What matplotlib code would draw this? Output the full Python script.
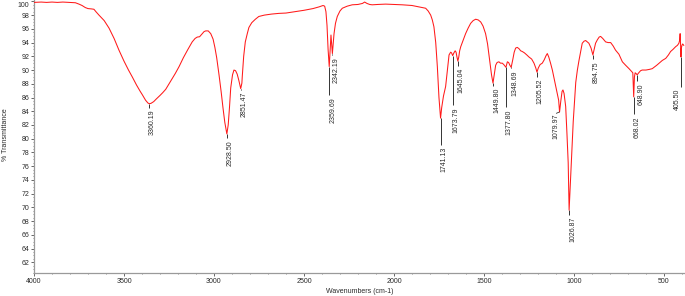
import matplotlib
matplotlib.use("Agg")
import matplotlib.pyplot as plt
import matplotlib.transforms as mtransforms
from matplotlib.ticker import MultipleLocator
import numpy as np

# ---------------- data ----------------
wavenumbers = [
    4000, 3960, 3930, 3900, 3870, 3840, 3800, 3770, 3750, 3733, 3715, 3700, 3680, 3667, 3656, 3639,
    3610, 3583, 3555, 3528, 3500, 3475, 3454, 3430, 3410, 3398, 3380, 3367, 3360.19, 3350, 3335,
    3320, 3300, 3285, 3268, 3240, 3215, 3194, 3170, 3145, 3121, 3105, 3093, 3080, 3068, 3055, 3046,
    3032, 3018, 3005, 2995, 2985, 2972, 2960, 2950, 2940, 2928.5, 2921, 2914, 2907, 2897, 2889,
    2880, 2871, 2862, 2851.47, 2845, 2843, 2835, 2826, 2815, 2806, 2790, 2770, 2751, 2720, 2680,
    2640, 2600, 2550, 2500, 2450, 2416, 2394, 2385, 2378, 2372, 2366, 2359.69, 2355, 2350, 2346,
    2342.19, 2337, 2333, 2325, 2315, 2300, 2287, 2260, 2232, 2200, 2175, 2163, 2150, 2135, 2121,
    2090, 2046, 2000, 1954, 1900, 1861, 1840, 1824, 1810, 1796, 1787, 1778, 1768, 1759, 1750,
    1741.13, 1735, 1725, 1713, 1703, 1694, 1685, 1680, 1673.79, 1667, 1660, 1655, 1650, 1645.04,
    1640, 1635, 1629, 1615, 1602, 1588, 1574, 1560, 1546, 1532, 1518, 1505, 1491, 1480, 1468,
    1458, 1449.80, 1443, 1435, 1427, 1417, 1408, 1398, 1390, 1377.80, 1370, 1363, 1356, 1348.69,
    1340, 1332, 1324, 1315, 1305, 1296, 1287, 1275, 1262, 1250, 1235, 1222, 1212, 1205.52, 1198,
    1188, 1176, 1165, 1155, 1148, 1140, 1130, 1120, 1108, 1093, 1085, 1079.97, 1073, 1066, 1061,
    1055, 1046, 1039, 1032, 1026.87, 1020, 1014, 1009, 1004, 1000, 995, 990, 981, 972, 962, 954,
    944, 935, 926, 917, 905, 894.75, 888, 880, 870, 860, 852, 840, 824, 810, 796, 782, 769, 750,
    731, 713, 694, 680, 673, 668.02, 664, 660, 655, 648.90, 640, 630, 621, 600, 580, 565, 540,
    509, 490, 475, 463, 450, 435, 425, 417, 413, 410, 408, 405.5, 403, 400, 396, 390,
]
transmittance = [
    99.85, 99.9, 99.85, 99.9, 99.85, 99.9, 99.85, 99.8, 99.6, 99.4, 99.1, 98.95, 98.9, 98.85, 98.5, 98.0,
    97.2, 96.1, 94.6, 92.9, 91.3, 90.0, 89.0, 87.8, 86.9, 86.4, 85.6, 85.2, 85.1, 85.15, 85.4,
    85.8, 86.3, 86.7, 87.2, 88.4, 89.5, 90.5, 91.8, 93.0, 94.1, 94.6, 94.8, 94.85, 95.2, 95.6, 95.7,
    95.7, 95.3, 94.5, 93.3, 91.8, 89.3, 86.8, 84.5, 82.4, 80.7, 82.0, 84.5, 87.4, 89.3, 90.0,
    89.9, 89.4, 88.5, 87.3, 88.1, 89.0, 92.0, 94.1, 95.3, 96.2, 96.9, 97.4, 97.8, 98.0, 98.15,
    98.25, 98.3, 98.5, 98.7, 98.95, 99.2, 99.4, 99.3, 98.5, 96.5, 93.0, 90.5, 92.6, 95.1, 93.8,
    92.4, 94.0, 95.3, 96.8, 97.8, 98.6, 99.0, 99.3, 99.5, 99.55, 99.7, 99.9, 99.7, 99.55, 99.5,
    99.55, 99.6, 99.55, 99.5, 99.4, 99.2, 99.1, 99.0, 98.6, 98.0, 97.3, 96.3, 94.0, 90.5, 86.0,
    83.0, 84.5, 86.2, 87.6, 90.0, 92.2, 92.6, 92.5, 92.1, 92.5, 92.8, 92.6, 91.9, 91.3,
    91.9, 92.8, 93.4, 94.4, 95.3, 96.1, 96.8, 97.2, 97.4, 97.3, 97.0, 96.4, 95.3, 93.8, 91.4,
    89.3, 88.1, 89.3, 90.7, 91.1, 91.2, 91.0, 91.0, 90.8, 90.4, 91.2, 91.1, 90.7, 90.4,
    91.5, 92.6, 93.2, 93.3, 93.1, 92.8, 92.7, 92.5, 92.2, 91.9, 91.6, 91.0, 90.3, 89.7, 90.3,
    90.8, 91.0, 91.5, 92.1, 92.4, 91.9, 91.0, 90.0, 88.5, 86.6, 85.6, 83.9, 85.5, 86.9, 87.1,
    86.6, 84.7, 80.8, 76.5, 69.6, 73.5, 77.0, 79.5, 82.5, 84.2, 86.5, 88.2, 90.0, 91.4, 92.8, 93.9,
    94.2, 94.3, 94.1, 93.9, 93.2, 92.2, 93.0, 93.9, 94.4, 94.8, 94.9, 94.6, 94.1, 94.0, 94.0, 93.5, 92.9, 92.3,
    91.2, 90.7, 90.2, 89.8, 89.6, 86.1, 89.0, 89.6, 89.5, 89.3, 89.6, 89.9, 90.0, 90.0, 90.1, 90.2, 90.7,
    91.4, 91.7, 92.2, 92.7, 93.0, 93.4, 93.6, 93.9, 94.3, 95.3, 94.0, 91.9, 93.2, 93.6, 93.8, 93.6,
]

peak_wn = [3360.19, 2928.50, 2851.47, 2359.69, 2342.19, 1741.13, 1673.79, 1645.04, 1449.80,
           1377.80, 1348.69, 1205.52, 1079.97, 1026.87, 894.75, 668.02, 648.90, 405.5]
peak_labels = ["3360.19", "2928.50", "2851.47", "2359.69", "2342.19", "1741.13", "1673.79",
               "1645.04", "1449.80", "1377.80", "1348.69", "1205.52", "1079.97", "1026.87",
               "894.75", "668.02", "648.90", "405.50"]

# layout: y (in % T) of the top of each label text
label_top = [84.2, 79.8, 86.9, 86.1, 91.9, 78.8, 84.6, 90.3, 87.4,
             84.3, 90.0, 88.8, 83.7, 68.6, 91.3, 83.3, 88.1, 87.3]
# horizontal text offset in pixels relative to marker
label_dx = [3.5] * len(peak_wn)
label_dx[12] = -3.2
label_dx[17] = -3.6
leader = [False] * len(peak_wn)
leader[12] = True

x_ticks = [4000, 3500, 3000, 2500, 2000, 1500, 1000, 500]
y_ticks = list(range(62, 101, 2))

# ---------------- figure ----------------
W, H = 685, 296
fig = plt.figure(figsize=(W / 100, H / 100), dpi=100)
ax_left, ax_bottom_px = 34, 273.3
ax = fig.add_axes([ax_left / W, (H - ax_bottom_px) / H, (W - ax_left) / W, ax_bottom_px / H])

FONT = "Liberation Sans"
TXT = "#2a2a2a"

ax.plot(wavenumbers, transmittance, color="#ff1a1a", lw=0.75, zorder=3)

ymin, ymax = 60.4, 100.2
ax.set_xlim(4000, 383)
ax.set_ylim(ymin, ymax)

for s in ["top", "right"]:
    ax.spines[s].set_visible(False)
for s in ["left", "bottom"]:
    ax.spines[s].set_color("#9a9a9a")
    ax.spines[s].set_linewidth(0.9)

ax.set_xticks(x_ticks)
ax.set_xticklabels([str(t) for t in x_ticks])
ax.xaxis.set_minor_locator(MultipleLocator(100))
ax.set_yticks(y_ticks)
ax.set_yticklabels([str(t) for t in y_ticks])
ax.yaxis.set_minor_locator(MultipleLocator(0.5))

ax.tick_params(axis="both", which="major", direction="out", length=2.2, width=0.7,
               color="#666666", labelsize=5, labelcolor=TXT, pad=1.2)
ax.tick_params(axis="both", which="minor", direction="out", length=1.0, width=0.6,
               color="#777777")
for lab in ax.get_xticklabels() + ax.get_yticklabels():
    lab.set_fontfamily(FONT)

# shift top "100" label down so it is not clipped
for lab in ax.get_yticklabels():
    if lab.get_text() == "100":
        off = mtransforms.ScaledTranslation(0, -3.5 / 100, fig.dpi_scale_trans)
        lab.set_transform(lab.get_transform() + off)

# peak markers & labels
px_per_unit = ax_bottom_px / (ymax - ymin)
for wn, txt, ytop, dx, ld in zip(peak_wn, peak_labels, label_top, label_dx, leader):
    yp = float(np.interp(wn, wavenumbers[::-1], transmittance[::-1]))
    if ld:
        dy_pt = (ytop - yp) * px_per_unit * 0.72
        ax.annotate("", xy=(wn, yp), xytext=(dx * 0.72, dy_pt), textcoords="offset points",
                    arrowprops=dict(arrowstyle="-", color="#333333", lw=0.6,
                                    shrinkA=0, shrinkB=0), annotation_clip=False)
    else:
        ax.plot([wn, wn], [yp, ytop + 0.25], color="#333333", lw=0.7, zorder=2,
                solid_capstyle="butt")
    ax.annotate(txt, xy=(wn, ytop), xytext=(dx * 0.72, 0), textcoords="offset points",
                rotation=90, ha="center", va="top", fontsize=5, color=TXT,
                family=FONT, annotation_clip=False)

fig.text(359.5 / W, 1 - 291.5 / H, "Wavenumbers (cm-1)", ha="center", va="center",
         fontsize=5, color=TXT, family=FONT)
fig.text(5.5 / W, 1 - 135 / H, "% Transmittance", ha="center", va="center",
         rotation=90, fontsize=5, color=TXT, family=FONT)

fig.savefig("out.png", dpi=100)
